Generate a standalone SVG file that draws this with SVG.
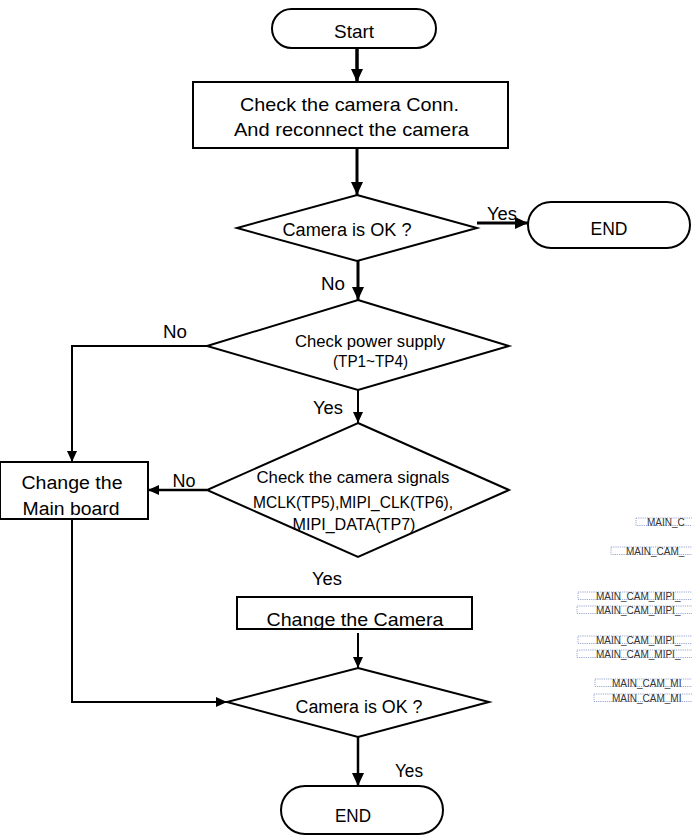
<svg xmlns="http://www.w3.org/2000/svg" width="692" height="836" viewBox="0 0 692 836">
<defs>
<marker id="ah" markerUnits="userSpaceOnUse" markerWidth="14" markerHeight="14" viewBox="0 0 14 14" refX="13" refY="7" orient="auto"><path d="M0,1 L13,7 L0,13 Z" fill="#000"/></marker>
<marker id="ahs" markerUnits="userSpaceOnUse" markerWidth="12" markerHeight="12" viewBox="0 0 12 12" refX="11" refY="6" orient="auto"><path d="M0,1 L11,6 L0,11 Z" fill="#000"/></marker>
</defs>
<style>
.s{fill:#fff;stroke:#000;stroke-width:2}
.t{font-family:"Liberation Sans",Arial,sans-serif;fill:#000;text-anchor:middle}
.c{fill:none;stroke:#000}
.sm{font-family:"Liberation Sans",Arial,sans-serif;font-size:10px;fill:#333}
.db{fill:none;stroke:#7f8fc8;stroke-width:0.8;stroke-dasharray:1.2,1}
</style>
<g id="connectors">
<line class="c" x1="357" y1="48" x2="357" y2="82" stroke-width="3.5" marker-end="url(#ah)"/>
<line class="c" x1="357" y1="148" x2="357" y2="195" stroke-width="3" marker-end="url(#ah)"/>
<line class="c" x1="477" y1="223" x2="528" y2="223" stroke-width="3" marker-end="url(#ah)"/>
<line class="c" x1="358" y1="261" x2="358" y2="300" stroke-width="3" marker-end="url(#ah)"/>
<path class="c" d="M207,346 H72 V462" stroke-width="2" marker-end="url(#ahs)"/>
<line class="c" x1="358" y1="390" x2="358" y2="423" stroke-width="2" marker-end="url(#ahs)"/>
<line class="c" x1="207" y1="490" x2="148" y2="490" stroke-width="2.5" marker-end="url(#ahs)"/>
<path class="c" d="M72,519 V702 H227" stroke-width="2" marker-end="url(#ahs)"/>
<line class="c" x1="358" y1="633" x2="358" y2="668" stroke-width="2" marker-end="url(#ahs)"/>
<line class="c" x1="358" y1="737" x2="358" y2="786" stroke-width="2.5" marker-end="url(#ah)"/>
<text class="t" x="502" y="220" font-size="18" textLength="30" lengthAdjust="spacingAndGlyphs">Yes</text>
<text class="t" x="333" y="290" font-size="18" textLength="24" lengthAdjust="spacingAndGlyphs">No</text>
<text class="t" x="175" y="338" font-size="18" textLength="24" lengthAdjust="spacingAndGlyphs">No</text>
<text class="t" x="328" y="414" font-size="18" textLength="30" lengthAdjust="spacingAndGlyphs">Yes</text>
<text class="t" x="184" y="487" font-size="18" textLength="23" lengthAdjust="spacingAndGlyphs">No</text>
<text class="t" x="327" y="585" font-size="18" textLength="30" lengthAdjust="spacingAndGlyphs">Yes</text>
<text class="t" x="409" y="777" font-size="18" textLength="28" lengthAdjust="spacingAndGlyphs">Yes</text>
</g>
<g id="start">
<rect class="s" x="272" y="9" width="164" height="39" rx="19.5"/>
<text class="t" x="354" y="38" font-size="19" textLength="40" lengthAdjust="spacingAndGlyphs">Start</text>
</g>
<g id="check-conn">
<rect class="s" x="193" y="82" width="315" height="66"/>
<text class="t" x="349.5" y="111" font-size="19" textLength="219" lengthAdjust="spacingAndGlyphs">Check the camera Conn.</text>
<text class="t" x="351.5" y="136" font-size="19" textLength="235" lengthAdjust="spacingAndGlyphs">And reconnect the camera</text>
</g>
<g id="camera-ok-1">
<polygon class="s" points="357,195 477,228 357,261 237,228"/>
<text class="t" x="347" y="236" font-size="18" textLength="129" lengthAdjust="spacingAndGlyphs">Camera is OK ?</text>
</g>
<g id="end-1">
<rect class="s" x="528" y="202" width="162" height="46" rx="23"/>
<text class="t" x="609" y="235" font-size="18" textLength="37" lengthAdjust="spacingAndGlyphs">END</text>
</g>
<g id="check-power">
<polygon class="s" points="358,300 509,346 358,390 207,346"/>
<text class="t" x="370" y="347" font-size="17" textLength="150" lengthAdjust="spacingAndGlyphs">Check power supply</text>
<text class="t" x="370.5" y="367" font-size="17" textLength="75" lengthAdjust="spacingAndGlyphs">(TP1~TP4)</text>
</g>
<g id="check-signals">
<polygon class="s" points="358,423 509,490 358,557 207,490"/>
<text class="t" x="353" y="483" font-size="16" textLength="193" lengthAdjust="spacingAndGlyphs">Check the camera signals</text>
<text class="t" x="353" y="508" font-size="16" textLength="200" lengthAdjust="spacingAndGlyphs">MCLK(TP5),MIPI_CLK(TP6),</text>
<text class="t" x="354" y="530" font-size="16" textLength="123" lengthAdjust="spacingAndGlyphs">MIPI_DATA(TP7)</text>
</g>
<g id="change-main">
<rect class="s" x="0" y="462" width="148" height="57"/>
<text class="t" x="72" y="489" font-size="18" textLength="101" lengthAdjust="spacingAndGlyphs">Change the</text>
<text class="t" x="71" y="515" font-size="18" textLength="97" lengthAdjust="spacingAndGlyphs">Main board</text>
</g>
<g id="change-camera">
<rect class="s" x="237" y="597" width="235" height="32"/>
<text class="t" x="355" y="626" font-size="19" textLength="177" lengthAdjust="spacingAndGlyphs">Change the Camera</text>
</g>
<g id="camera-ok-2">
<polygon class="s" points="358,668 489,702 358,737 227,702"/>
<text class="t" x="359" y="713" font-size="18" textLength="127" lengthAdjust="spacingAndGlyphs">Camera is OK ?</text>
</g>
<g id="end-2">
<rect class="s" x="281" y="786" width="162" height="48" rx="24"/>
<text class="t" x="353" y="822" font-size="18" textLength="36" lengthAdjust="spacingAndGlyphs">END</text>
</g>
<g id="net-labels">
<rect class="db" x="636" y="518" width="70" height="7.5"/>
<text class="sm" x="647" y="525.5">MAIN_C</text>
<rect class="db" x="611" y="547" width="90" height="7.5"/>
<text class="sm" x="626" y="555">MAIN_CAM_</text>
<rect class="db" x="578" y="592" width="120" height="7.5"/>
<text class="sm" x="596" y="600">MAIN_CAM_MIPI_</text>
<rect class="db" x="577" y="606" width="120" height="7.5"/>
<text class="sm" x="596" y="613.5">MAIN_CAM_MIPI_</text>
<rect class="db" x="578" y="636" width="120" height="7.5"/>
<text class="sm" x="596" y="644">MAIN_CAM_MIPI_</text>
<rect class="db" x="577" y="650" width="120" height="7.5"/>
<text class="sm" x="596" y="657.5">MAIN_CAM_MIPI_</text>
<rect class="db" x="595" y="679" width="110" height="7.5"/>
<text class="sm" x="612" y="687">MAIN_CAM_MI</text>
<rect class="db" x="594" y="694" width="110" height="7.5"/>
<text class="sm" x="612" y="701.5">MAIN_CAM_MI</text>
</g>
</svg>
